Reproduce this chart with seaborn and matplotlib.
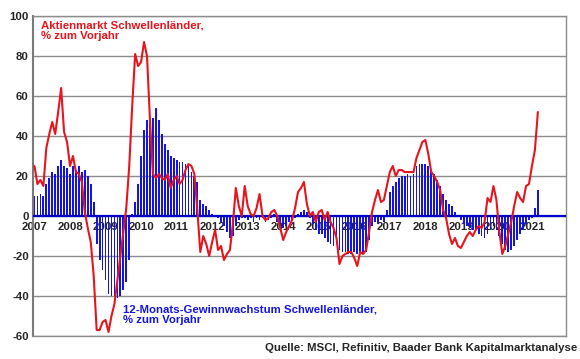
import numpy as np
import pandas as pd
import matplotlib
matplotlib.use("Agg")
import matplotlib.pyplot as plt
import seaborn as sns

# Monatswerte ab Jan 2007 (ein Wert pro Monat, bis Mär 2021)
# Aktienmarkt Schwellenländer, % zum Vorjahr (rote Linie)
aktien = [
    25, 16, 18, 15, 34, 41, 47, 41, 52, 64, 42, 37,          # 2007
    25, 30, 22, 21, 17, 2, -6, -13, -30, -57, -57, -53,      # 2008
    -52, -58, -50, -44, -32, -20, -8, 4, 25, 55, 81, 75,     # 2009
    77, 87, 80, 48, 21, 19, 21, 19, 18, 21, 14, 18,          # 2010
    20, 16, 18, 23, 26, 25, 21, 3, -18, -10, -14, -20,       # 2011
    -13, -7, -17, -15, -22, -19, -17, -4, 14, 5, 0, 15,      # 2012
    5, 1, 0, 4, 11, 0, -2, -1, 2, 3, 0, -6,                  # 2013
    -12, -8, -5, -2, 4, 12, 14, 17, 6, 0, 2, -3,             # 2014
    2, 3, -2, 2, -3, -6, -11, -24, -20, -19, -18, -18,       # 2015
    -21, -25, -18, -19, -17, -8, 2, 8, 13, 7, 8, 15,         # 2016
    22, 25, 20, 23, 23, 22, 22, 22, 22, 29, 33, 37,          # 2017
    38, 31, 22, 20, 17, 13, 3, -1, -9, -14, -11, -15,        # 2018
    -16, -13, -10, -8, -10, -7, -5, -6, -3, 9, 7, 15,        # 2019
    8, -8, -19, -15, -9, -3, 5, 12, 9, 7, 15, 16,            # 2020
    25, 33, 52,                                              # 2021
]

# 12-Monats-Gewinnwachstum Schwellenländer, % zum Vorjahr (blaue Balken)
gewinn = [
    10, 10, 11, 10, 16, 19, 22, 21, 25, 28, 25, 24,          # 2007
    21, 25, 23, 25, 22, 23, 20, 16, 7, -14, -22, -27,        # 2008
    -32, -39, -40, -40, -41, -40, -37, -33, -22, 1, 7, 16,   # 2009
    30, 43, 48, 48, 49, 54, 48, 41, 36, 33, 30, 29,          # 2010
    28, 27, 27, 26, 25, 22, 20, 17, 8, 6, 5, 3,              # 2011
    1, 0.5, -1, -3, -5, -8, -11, -10, -5, -2, -1, -1,        # 2012
    -2, -1, -3, -1, -2, -1, -3, -2, -1, 1, -3, -5,           # 2013
    -6, -5, -3, -2, -1, 1, 2, 3, 2, -1, -4, -7,              # 2014
    -9, -9, -11, -13, -14, -15, -14, -17, -18, -18, -19, -19,  # 2015
    -18, -19, -19, -19, -18, -12, -5, -3, -4, -2, -3, 3,     # 2016
    12, 15, 17, 19, 20, 20, 21, 20, 21, 25, 26, 26,          # 2017
    26, 25, 23, 21, 18, 15, 11, 8, 6, 5, 2, 0.5,             # 2018
    -2, -4, -5, -6, -7, -7, -9, -10, -11, -9, -7, -5,        # 2019
    -7, -10, -14, -17, -18, -17, -15, -12, -9, -7, -4, -2,   # 2020
    -1, 4, 13,                                               # 2021
]

jahre = [str(j) for j in range(2007, 2022)]
y_ticks = [-60, -40, -20, 0, 20, 40, 60, 80, 100]

rot = "#e8141c"
blau = "#1414e6"
fs = 8.2

sns.set_style("white")
plt.rcParams["font.family"] = ["Liberation Sans", "DejaVu Sans"]
plt.rcParams["font.weight"] = "bold"

df = pd.DataFrame({
    "monat": np.arange(len(aktien)),
    "aktien": aktien,
    "gewinn": gewinn,
})

fig = plt.figure(figsize=(5.8, 3.59), dpi=100)
ax = fig.add_axes([33 / 580, 1 - 336 / 359, 533 / 580, 320 / 359])

# Gitterlinien
for y in y_ticks:
    ax.axhline(y, color="#8c8c8c", lw=1.0, zorder=0)

sns.barplot(data=df, x="monat", y="gewinn", native_scale=True, width=0.6,
            color=blau, saturation=1, linewidth=0, ax=ax, zorder=2)
ax.axhline(0, color="#0000c8", lw=1.6, zorder=3)
sns.lineplot(data=df, x="monat", y="aktien", color=rot, lw=1.5, ax=ax, zorder=4)

ax.set_xlim(-0.5, 179.5)
ax.set_ylim(-60, 100)
ax.set_xticks([])
ax.set_yticks(y_ticks)
ax.set_yticklabels([str(t) for t in y_ticks], fontsize=fs, fontweight="bold")
ax.tick_params(axis="y", length=0, pad=3)
ax.set_xlabel("")
ax.set_ylabel("")

for s in ax.spines.values():
    s.set_color("#8c8c8c")
    s.set_linewidth(1.0)
ax.spines["left"].set_color("#7a7a7a")
ax.spines["left"].set_linewidth(1.5)

# Jahreszahlen direkt unter der Nulllinie
for k, jahr in enumerate(jahre):
    ax.text(12 * k, -3.0, jahr, ha="center", va="top", fontsize=fs,
            fontweight="bold", zorder=1.5)

fig.text(41 / 580, 1 - 20 / 359, "Aktienmarkt Schwellenländer,\n% zum Vorjahr",
         color=rot, fontsize=fs, fontweight="bold", ha="left", va="top",
         linespacing=1.1)
fig.text(123 / 580, 1 - 304 / 359,
         "12-Monats-Gewinnwachstum Schwellenländer,\n% zum Vorjahr",
         color=blau, fontsize=fs, fontweight="bold", ha="left", va="top",
         linespacing=1.1)
fig.text(577 / 580, 1 - 348 / 359,
         "Quelle: MSCI, Refinitiv, Baader Bank Kapitalmarktanalyse",
         fontsize=fs, fontweight="bold", ha="right", va="center")

fig.savefig("out.png", dpi=100)
